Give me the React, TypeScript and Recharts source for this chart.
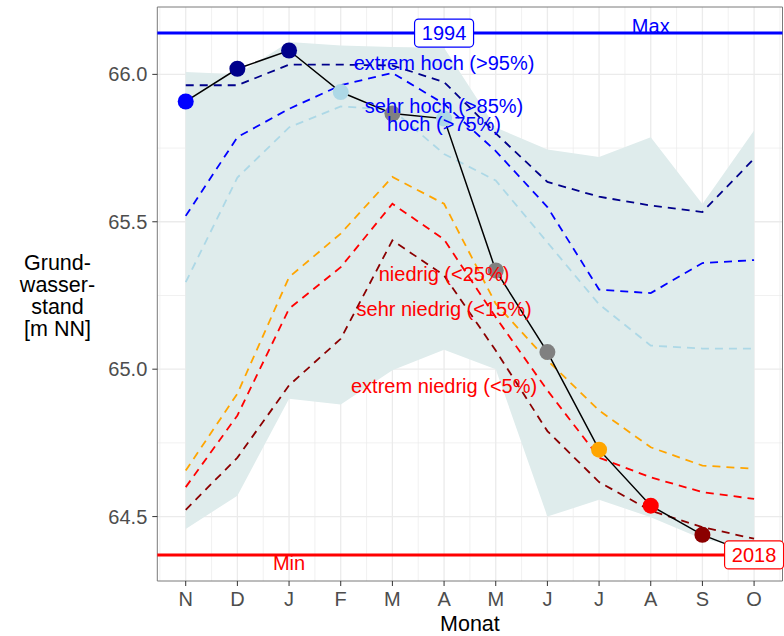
import {
  ComposedChart,
  Area,
  Line,
  XAxis,
  YAxis,
  Label,
  ReferenceLine,
  ReferenceDot,
  ReferenceArea,
} from 'recharts';

// Monate des Abflussjahres (November bis Oktober)
const monate = ['N', 'D', 'J', 'F', 'M', 'A', 'M', 'J', 'J', 'A', 'S', 'O'];

// Grundwasserstand im laufenden Jahr [m NN]
const stand = [65.908, 66.019, 66.081, 65.94, 65.867, 65.85, 65.335, 65.058, 64.727, 64.537, 64.438, 64.37];

// Spannweite aller Vergleichsjahre
const bereichUnten = [64.458, 64.571, 64.9, 64.88, 64.996, 65.066, 65.0, 64.5, 64.557, 64.498, 64.424, 64.39];
const bereichOben = [66.008, 66.0, 66.11, 66.098, 66.093, 66.09, 65.82, 65.745, 65.72, 65.787, 65.56, 65.81];

// Monatliche Perzentile
const p95 = [65.963, 65.963, 66.033, 66.033, 66.03, 65.974, 65.8, 65.635, 65.585, 65.555, 65.533, 65.714];
const p85 = [65.52, 65.787, 65.883, 65.963, 66.005, 65.9, 65.74, 65.55, 65.27, 65.258, 65.36, 65.37];
const p75 = [65.295, 65.65, 65.82, 65.891, 65.88, 65.73, 65.64, 65.43, 65.22, 65.08, 65.07, 65.07];
const p25 = [64.656, 64.917, 65.312, 65.46, 65.652, 65.561, 65.222, 65.03, 64.86, 64.735, 64.673, 64.662];
const p15 = [64.6, 64.843, 65.205, 65.346, 65.561, 65.44, 65.176, 64.928, 64.7, 64.633, 64.583, 64.56];
const p05 = [64.523, 64.7, 64.945, 65.103, 65.437, 65.318, 65.063, 64.79, 64.617, 64.52, 64.464, 64.425];

// Extremwerte der Messreihe
const maxWert = 66.14;
const maxJahr = '1994';
const maxMonat = 5;
const minWert = 64.37;
const minJahr = '2018';
const minMonat = 11;

const y_ticks = [64.5, 65.0, 65.5, 66.0];

const BLAU = '#0000FF';
const ROT = '#FF0000';
const NAVY = '#00008B';
const HELLBLAU = '#ADD8E6';
const ORANGE = '#FFA500';
const DUNKELROT = '#8B0000';
const GRAU = '#808080';

const perzentile = [
  { key: 'p95', werte: p95, farbe: NAVY, text: 'extrem hoch (>95%)', textFarbe: BLAU },
  { key: 'p85', werte: p85, farbe: BLAU, text: 'sehr hoch (>85%)', textFarbe: BLAU },
  { key: 'p75', werte: p75, farbe: HELLBLAU, text: 'hoch (>75%)', textFarbe: BLAU },
  { key: 'p25', werte: p25, farbe: ORANGE, text: 'niedrig (<25%)', textFarbe: ROT },
  { key: 'p15', werte: p15, farbe: ROT, text: 'sehr niedrig (<15%)', textFarbe: ROT },
  { key: 'p05', werte: p05, farbe: DUNKELROT, text: 'extrem niedrig (<5%)', textFarbe: ROT },
];

// Höhe der Beschriftungen (Grundlinie) im April
const textMonat = 5;
const textHoehe = [66.015, 65.868, 65.807, 65.299, 65.179, 64.919];

const daten = monate.map((m, i) => {
  const zeile: Record<string, any> = {
    i,
    monat: m,
    stand: stand[i],
    bereich: [bereichUnten[i], bereichOben[i]],
  };
  perzentile.forEach((p) => {
    zeile[p.key] = p.werte[i];
  });
  return zeile;
});

// Einstufung des Monatswerts anhand der Perzentile
function punktFarbe(i: number) {
  const v = stand[i];
  if (v > p95[i]) return NAVY;
  if (v > p85[i]) return BLAU;
  if (v > p75[i]) return HELLBLAU;
  if (v < p05[i]) return DUNKELROT;
  if (v < p15[i]) return ROT;
  if (v < p25[i]) return ORANGE;
  return GRAU;
}

const spanne = maxWert - minWert;
const yDomain = [minWert - 0.05 * spanne, maxWert + 0.05 * spanne];
const xPad = 0.05 * (monate.length - 1);
const xDomain = [-xPad, monate.length - 1 + xPad];

const xMajor = monate.map((_, i) => i);
const xMinor = [-0.5, ...monate.map((_, i) => i + 0.5)];
const yMinor = [64.75, 65.25, 65.75];

const GRID = '#ebebeb';
const FONT = '"Liberation Sans", Arial, Helvetica, sans-serif';

const kasten = (text: string, farbe: string) => (p: any) => (
  <g>
    <rect x={p.cx - 29.5} y={p.cy - 14} width={59} height={28} rx={4} ry={4} fill="#ffffff" stroke={farbe} strokeWidth={1.2} />
    <text x={p.cx} y={p.cy + 7} textAnchor="middle" fill={farbe} fontSize={20} fontFamily={FONT}>
      {text}
    </text>
  </g>
);

const schrift = (text: string, farbe: string, dy = 0) => (p: any) => (
  <text x={p.cx} y={p.cy + dy} textAnchor="middle" fill={farbe} fontSize={20} fontFamily={FONT}>
    {text}
  </text>
);

const XTitel = ({ viewBox }: any) => (
  <text
    x={viewBox.x + viewBox.width / 2}
    y={viewBox.y + viewBox.height - 5}
    textAnchor="middle"
    fill="#000000"
    fontSize={21.5}
    fontFamily={FONT}
  >
    Monat
  </text>
);

const yTitelZeilen = ['Grund-', 'wasser-', 'stand', '[m NN]'];

const YTitel = ({ viewBox }: any) => {
  const mitte = viewBox.y + viewBox.height / 2;
  return (
    <text textAnchor="middle" fill="#000000" fontSize={21.5} fontFamily={FONT}>
      {yTitelZeilen.map((z, k) => (
        <tspan key={z} x={viewBox.x + 57.5} y={mitte - 23.6 + k * 21.7}>
          {z}
        </tspan>
      ))}
    </text>
  );
};

export default function App() {
  return (
    <div style={{ position: 'absolute', left: 0, top: 0, background: '#ffffff' }}>
      <ComposedChart
        width={784}
        height={636}
        data={daten}
        margin={{ top: 7, right: 1.5, bottom: 0, left: 0 }}
        style={{ fontFamily: FONT }}
      >
        <XAxis
          dataKey="i"
          type="number"
          domain={xDomain}
          ticks={xMajor}
          tickFormatter={(v: number) => monate[v]}
          height={55}
          axisLine={false}
          tickSize={5}
          tickMargin={6}
          tickLine={{ stroke: '#333333' }}
          tick={{ fill: '#4d4d4d', fontSize: 20 }}
        >
          <Label content={XTitel} />
        </XAxis>
        <YAxis
          type="number"
          domain={yDomain}
          ticks={y_ticks}
          tickFormatter={(v: number) => v.toFixed(1)}
          width={157.3}
          axisLine={false}
          tickSize={5}
          tickMargin={5}
          tickLine={{ stroke: '#333333' }}
          tick={{ fill: '#4d4d4d', fontSize: 20 }}
        >
          <Label content={YTitel} />
        </YAxis>

        {/* Gitternetz */}
        {xMinor.map((v) => (
          <ReferenceLine key={`xm-${v}`} x={v} stroke={GRID} strokeWidth={0.7} zIndex={-100} />
        ))}
        {yMinor.map((v) => (
          <ReferenceLine key={`ym-${v}`} y={v} stroke={GRID} strokeWidth={0.7} zIndex={-100} />
        ))}
        {xMajor.map((v) => (
          <ReferenceLine key={`xg-${v}`} x={v} stroke={GRID} strokeWidth={1.3} zIndex={-100} />
        ))}
        {y_ticks.map((v) => (
          <ReferenceLine key={`yg-${v}`} y={v} stroke={GRID} strokeWidth={1.3} zIndex={-100} />
        ))}

        <Area
          dataKey="bereich"
          type="linear"
          fill="#dfecec"
          fillOpacity={1}
          stroke="none"
          isAnimationActive={false}
        />

        <ReferenceLine y={maxWert} stroke={BLAU} strokeWidth={3} />
        <ReferenceLine y={minWert} stroke={ROT} strokeWidth={3} />

        {perzentile.map((p) => (
          <Line
            key={p.key}
            dataKey={p.key}
            type="linear"
            stroke={p.farbe}
            strokeWidth={1.8}
            strokeDasharray="8 6"
            dot={false}
            activeDot={false}
            isAnimationActive={false}
          />
        ))}

        <Line
          dataKey="stand"
          type="linear"
          stroke="#000000"
          strokeWidth={1.5}
          dot={(p: any) => (
            <circle key={`pt-${p.index}`} cx={p.cx} cy={p.cy} r={8} fill={punktFarbe(p.index)} />
          )}
          activeDot={false}
          isAnimationActive={false}
        />

        {perzentile.map((p, k) => (
          <ReferenceDot
            key={`t-${p.key}`}
            x={textMonat}
            y={textHoehe[k]}
            r={0}
            shape={schrift(p.text, p.textFarbe)}
          />
        ))}

        <ReferenceDot x={9} y={maxWert} r={0} shape={schrift('Max', BLAU, 0)} />
        <ReferenceDot x={2} y={minWert} r={0} shape={schrift('Min', ROT, 15.5)} />
        <ReferenceDot x={maxMonat} y={maxWert} r={0} shape={kasten(maxJahr, BLAU)} />
        <ReferenceDot x={minMonat} y={minWert} r={0} shape={kasten(minJahr, ROT)} />

        <ReferenceArea
          x1={xDomain[0]}
          x2={xDomain[1]}
          y1={yDomain[0]}
          y2={yDomain[1]}
          fill="none"
          fillOpacity={0}
          stroke="#7a7a7a"
          strokeWidth={1}
        />
      </ComposedChart>
    </div>
  );
}
